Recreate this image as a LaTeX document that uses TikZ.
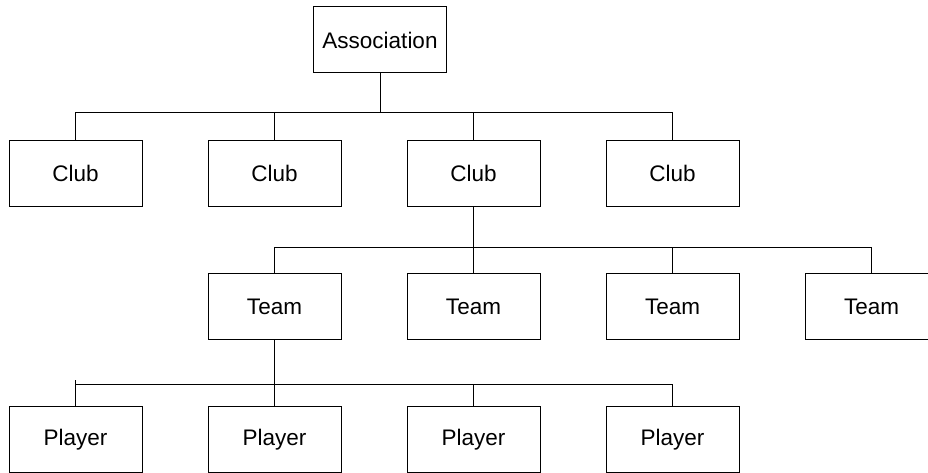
\documentclass[tikz,border=0pt]{standalone}
\usepackage{fontspec}
\setmainfont{Liberation Sans}
\usepackage{tikz}

\begin{document}
\begin{tikzpicture}[x=1pt, y=1pt, line width=1pt,
    every node/.style={rectangle, draw, minimum width=133pt, minimum height=66pt, inner sep=0pt, font=\fontsize{22.5}{27}\selectfont}]

\useasboundingbox (0,0) rectangle (928,473);

% Association at the top
\node (assoc) at (380, 433) {Association};

% Clubs (4 in a row)
\foreach \i/\x in {1/75.5, 2/274.5, 3/473.5, 4/672.5}
    \node (club\i) at (\x, 299.5) {Club};

% Teams of the third club
\foreach \i/\x in {1/274.5, 2/473.5, 3/672.5, 4/871.5}
    \node (team\i) at (\x, 166.5) {Team};

% Players of the first team
\foreach \i/\x in {1/75.5, 2/274.5, 3/473.5, 4/672.5}
    \node (play\i) at (\x, 33.5) {Player};

% Bus lines
\coordinate (busA) at (380, 360);
\coordinate (busC) at (473.5, 225);
\coordinate (busT) at (274.5, 88);

\draw (assoc) -- (busA);
\foreach \i in {1,...,4}
    \draw (busA) -| (club\i.north);

\draw (club3) -- (busC);
\foreach \i in {1,...,4}
    \draw (busC) -| (team\i.north);

\draw (team1) -- (busT);
\foreach \i in {1,...,4}
    \draw (busT) -| (play\i.north);
\draw (play1.north) -- ++(0, 26);  % small tick above the bus

\end{tikzpicture}
\end{document}
